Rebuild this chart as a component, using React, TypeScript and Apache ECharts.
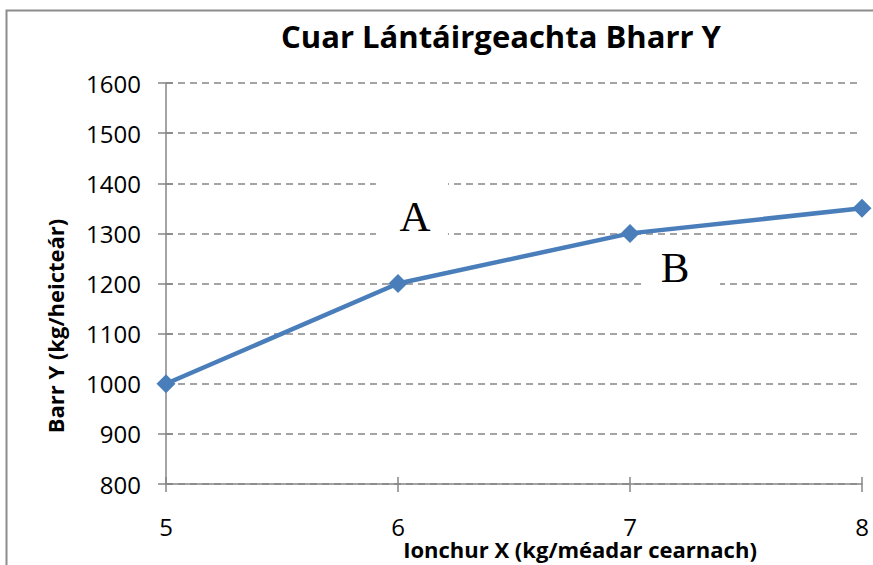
import React, { useEffect, useRef } from "react";
import * as echarts from "echarts";

const TITLE = "Cuar Lántáirgeachta Bharr Y";
const X_NAME = "Ionchur X (kg/méadar cearnach)";
const Y_NAME = "Barr Y (kg/heicteár)";
const inputX = [5, 6, 7, 8];
const yieldY = [1000, 1200, 1300, 1350];
const annotLabels = ["A", "B"];
const annotX = [6.06, 7.22];
const annotY = [1343, 1233];

const BLUE = "#4a7ebb";
const GRAY = "#868686";
const SANS = "'Open Sans', sans-serif";

export default function App() {
  const ref = useRef<HTMLDivElement>(null);
  useEffect(() => {
    if (!ref.current) return;
    const chart = echarts.init(ref.current, undefined, { renderer: "svg" });
    const grid = { left: 166, right: 11, top: 83, bottom: 81 };
    chart.setOption({
      animation: false,
      backgroundColor: "#fff",
      grid,
      xAxis: [
        {
          type: "value",
          min: 5,
          max: 8,
          interval: 1,
          axisLine: { show: true, lineStyle: { color: GRAY, width: 1.5 } },
          axisTick: { show: true, length: 8, lineStyle: { color: GRAY, width: 1.5 } },
          axisLabel: {
            margin: 30,
            fontFamily: SANS,
            fontSize: 24,
            color: "#000",
            formatter: (v: number) => String(v),
          },
          splitLine: { show: false },
        },
        {
          type: "value",
          min: 5,
          max: 8,
          interval: 1,
          position: "bottom",
          axisLine: { show: false },
          axisTick: { show: true, inside: true, length: 7, lineStyle: { color: GRAY, width: 1.5 } },
          axisLabel: { show: false },
          splitLine: { show: false },
        },
      ],
      yAxis: [
        {
          type: "value",
          min: 800,
          max: 1600,
          interval: 100,
          axisLine: { show: true, lineStyle: { color: GRAY, width: 1.5 } },
          axisTick: { show: true, length: 8, lineStyle: { color: GRAY, width: 1.5 } },
          axisLabel: {
            margin: 25,
            fontFamily: SANS,
            fontSize: 24,
            color: "#000",
            formatter: (v: number) => String(v),
          },
          splitLine: { show: true, lineStyle: { color: GRAY, width: 1.5, type: [7, 5] } },
        },
        {
          type: "value",
          min: 800,
          max: 1600,
          interval: 100,
          position: "left",
          axisLine: { show: false },
          axisTick: { show: true, inside: true, length: 7, lineStyle: { color: GRAY, width: 1.5 } },
          axisLabel: { show: false },
          splitLine: { show: false },
        },
      ],
      graphic: [
        {
          type: "rect",
          left: 4,
          top: 8,
          shape: { width: 900, height: 600 },
          style: { fill: "none", stroke: "#8c8c8c", lineWidth: 2 },
          z: 0,
        },
        {
          type: "text",
          x: 501,
          y: 36,
          style: {
            text: TITLE,
            fontFamily: SANS,
            fontWeight: "bold",
            fontSize: 31,
            fill: "#000",
            align: "center",
            verticalAlign: "middle",
          },
        },
        {
          type: "text",
          x: 580,
          y: 549,
          style: {
            text: X_NAME,
            fontFamily: SANS,
            fontWeight: "bold",
            fontSize: 22,
            fill: "#000",
            align: "center",
            verticalAlign: "middle",
          },
        },
        {
          type: "text",
          x: 55,
          y: 326,
          rotation: Math.PI / 2,
          style: {
            text: Y_NAME,
            fontFamily: SANS,
            fontWeight: "bold",
            fontSize: 22,
            fill: "#000",
            align: "center",
            verticalAlign: "middle",
          },
        },
      ],
      series: [
        {
          type: "line",
          data: inputX.map((x, i) => [x, yieldY[i]]),
          symbol: "diamond",
          symbolSize: 19,
          clip: false,
          z: 3,
          lineStyle: { color: BLUE, width: 4.5 },
          itemStyle: { color: BLUE },
          markPoint: {
            silent: true,
            data: annotLabels.map((t, i) => ({
              coord: [annotX[i], annotY[i]],
              symbol: "rect",
              symbolSize: i === 0 ? [72, 64] : [78, 58],
              itemStyle: { color: "#fff", borderWidth: 0 },
              label: {
                show: true,
                position: "inside",
                formatter: t,
                color: "#000",
                fontFamily: "'Liberation Serif', 'Times New Roman', serif",
                fontSize: 43,
                offset: i === 0 ? [3, 5] : [-6, 1],
              },
            })),
          },
        },
      ],
    });
    return () => chart.dispose();
  }, []);
  return (
    <div
      ref={ref}
      style={{ position: "fixed", left: 0, top: 0, width: 873, height: 565 }}
    />
  );
}
